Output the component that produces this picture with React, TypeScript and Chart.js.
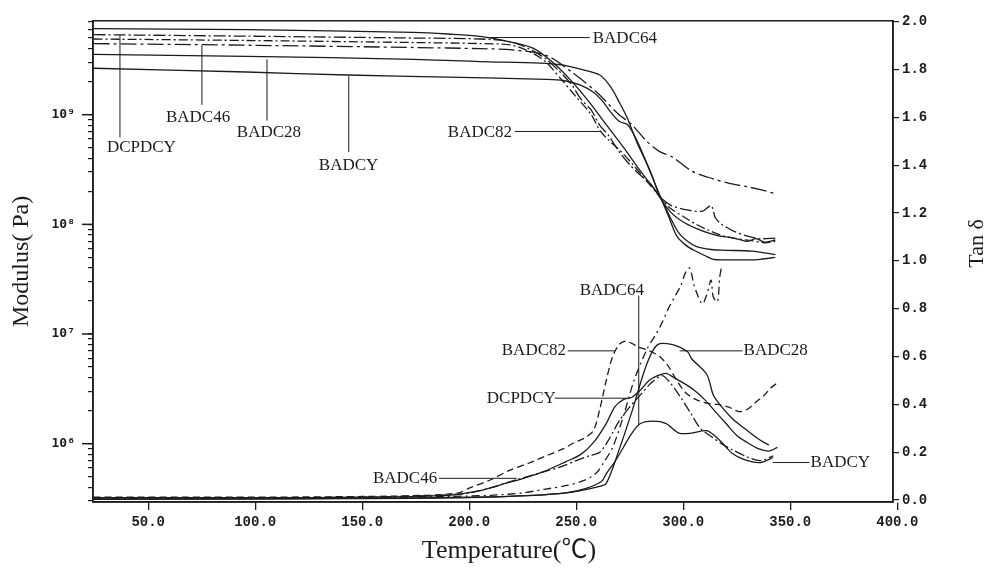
import React, { useEffect, useRef } from 'react';
import { Chart, registerables } from 'chart.js';
Chart.register(...registerables);

// ---------- axis ticks ----------
const xTickValues = [50, 100, 150, 200, 250, 300, 350, 400];
const tanTickValues = [0, 0.2, 0.4, 0.6, 0.8, 1.0, 1.2, 1.4, 1.6, 1.8, 2.0];
const modDecades = [1e6, 1e7, 1e8, 1e9];

// ---------- Storage modulus (Pa) ----------
const tModBADC64 = [24.5, 96, 174, 190, 205, 220, 230, 239, 248, 256, 264, 272, 280, 289, 293, 297, 301, 305, 310, 314, 320, 330, 336, 343];
const modBADC64 = [6.1e9, 5.96e9, 5.62e9, 5.44e9, 5.18e9, 4.57e9, 4.02e9, 3.0e9, 2.0e9, 1.31e9, 8.1e8, 5.05e8, 3.06e8, 1.79e8, 1.2e8, 7.8e7, 6.5e7, 5.8e7, 5.2e7, 4.8e7, 4.75e7, 4.74e7, 4.8e7, 5.0e7];

const tModBADC28 = [24.5, 96, 174, 205, 233, 243, 252, 261, 266, 270, 274, 278, 283, 289, 294, 298, 302, 306, 313, 320, 332, 343];
const modBADC28 = [3.55e9, 3.4e9, 3.2e9, 3.05e9, 2.95e9, 2.85e9, 2.6e9, 2.3e9, 1.8e9, 1.31e9, 9.2e8, 5.8e8, 3.55e8, 1.85e8, 1.15e8, 8.3e7, 7.0e7, 6.3e7, 5.9e7, 5.8e7, 5.7e7, 5.3e7];

const tModBADCY = [24.5, 96, 143, 190, 236, 244, 252, 258, 262, 266, 270, 274, 278, 282, 286, 289, 294, 300, 306, 312, 317, 322, 326, 330, 334, 338, 343];
const modBADCY = [2.65e9, 2.45e9, 2.3e9, 2.2e9, 2.1e9, 2.05e9, 1.86e9, 1.6e9, 1.35e9, 1.06e9, 8.7e8, 8.1e8, 6.0e8, 4.0e8, 2.6e8, 1.79e8, 1.3e8, 1.05e8, 9.2e7, 8.3e7, 7.8e7, 7.6e7, 7.3e7, 7.0e7, 7.4e7, 6.9e7, 7.2e7];

const tModDCPDCY = [24.5, 96, 174, 205, 220, 230, 236, 242, 248, 252, 257, 261, 265, 270, 275, 280, 285, 289, 294, 301, 309, 313, 315, 318, 324, 330, 336, 343];
const modDCPDCY = [5.37e9, 5.2e9, 5.0e9, 4.9e9, 4.6e9, 3.8e9, 3.2e9, 2.5e9, 1.86e9, 1.4e9, 1.1e9, 8.0e8, 6.5e8, 4.6e8, 3.5e8, 2.8e8, 2.3e8, 1.79e8, 1.5e8, 1.36e8, 1.32e8, 1.48e8, 1.15e8, 1.0e8, 8.6e7, 7.8e7, 7.4e7, 7.5e7];

const tModBADC46 = [24.5, 96, 174, 205, 220, 236, 248, 260, 265, 270, 276, 283, 289, 295, 304, 314, 322, 330, 337, 343];
const modBADC46 = [4.45e9, 4.3e9, 4.1e9, 4.0e9, 3.9e9, 3.47e9, 2.44e9, 1.58e9, 1.25e9, 1.0e9, 8.1e8, 5.7e8, 4.6e8, 4.1e8, 3.06e8, 2.6e8, 2.35e8, 2.2e8, 2.05e8, 1.9e8];

const tModBADC82 = [24.5, 96, 174, 205, 220, 230, 236, 243, 250, 257, 261, 265, 270, 276, 282, 289, 294, 300, 306, 312, 318, 325, 332, 338, 343];
const modBADC82 = [4.9e9, 4.75e9, 4.55e9, 4.45e9, 4.3e9, 3.6e9, 3.0e9, 2.1e9, 1.45e9, 1.0e9, 7.2e8, 5.9e8, 4.8e8, 3.6e8, 2.6e8, 1.79e8, 1.4e8, 1.18e8, 1.0e8, 8.8e7, 7.9e7, 7.4e7, 7.1e7, 6.8e7, 7.0e7];

// ---------- Tan delta ----------
const tTanBADC82 = [24.5, 100, 150, 180, 195, 200, 210, 219, 228, 236, 244, 249, 254, 258, 261, 264, 267, 270, 273, 276, 279, 284, 289, 293, 297, 301, 306, 311, 316, 321, 326, 330, 334, 338, 341, 344];
const tanBADC82 = [0.012, 0.012, 0.015, 0.02, 0.03, 0.05, 0.085, 0.125, 0.155, 0.185, 0.215, 0.24, 0.26, 0.29, 0.38, 0.5, 0.6, 0.65, 0.665, 0.655, 0.64, 0.625, 0.6, 0.56, 0.5, 0.45, 0.42, 0.405, 0.4, 0.39, 0.37, 0.38, 0.41, 0.44, 0.47, 0.49];

const tTanBADC64 = [24.5, 100, 150, 200, 230, 245, 255, 262, 264, 268, 272, 276, 280, 286, 292, 298, 304, 311, 317, 323, 330, 336, 342];
const tanBADC64 = [0.005, 0.005, 0.008, 0.012, 0.02, 0.03, 0.05, 0.08, 0.11, 0.16, 0.22, 0.28, 0.32, 0.33, 0.32, 0.28, 0.28, 0.29, 0.25, 0.195, 0.165, 0.157, 0.178];

const tTanBADC28 = [24.5, 150, 200, 230, 245, 255, 260, 264, 270, 276, 283, 288, 295, 302, 304, 311, 314, 317, 323, 330, 336, 340];
const tanBADC28 = [0.003, 0.006, 0.01, 0.02, 0.03, 0.045, 0.055, 0.07, 0.21, 0.37, 0.57, 0.65, 0.65, 0.62, 0.59, 0.525, 0.44, 0.4, 0.34, 0.29, 0.25, 0.23];

const tTanDCPDCY = [24.5, 100, 150, 190, 205, 215, 225, 235, 245, 252, 258, 264, 268, 272, 276, 280, 284, 288, 292, 296, 300, 305, 310, 315, 320, 325, 330, 335, 340, 344];
const tanDCPDCY = [0.01, 0.01, 0.012, 0.02, 0.04, 0.065, 0.09, 0.12, 0.16, 0.19, 0.24, 0.32, 0.39, 0.42, 0.43, 0.46, 0.5, 0.52, 0.53, 0.51, 0.49, 0.46, 0.42, 0.37, 0.32, 0.27, 0.24, 0.215, 0.205, 0.22];

const tTanBADCY = [24.5, 100, 150, 185, 200, 211, 222, 234, 243, 250, 256, 261, 265, 270, 275, 280, 285, 290, 293, 298, 303, 308, 314, 318, 323, 330, 336, 342];
const tanBADCY = [0.01, 0.01, 0.012, 0.02, 0.03, 0.054, 0.085, 0.116, 0.14, 0.165, 0.185, 0.2, 0.25, 0.33, 0.39, 0.44, 0.49, 0.52, 0.5, 0.44, 0.37, 0.3, 0.26, 0.235, 0.21, 0.18, 0.165, 0.185];

const tTanBADC46 = [24.5, 100, 150, 190, 210, 225, 235, 245, 253, 259, 263, 267, 272, 277, 283, 287, 290, 293, 296, 299, 301, 303, 305, 307, 309, 311, 313, 314, 316, 317, 318];
const tanBADC46 = [0.008, 0.008, 0.01, 0.015, 0.02, 0.03, 0.045, 0.06, 0.08, 0.11, 0.16, 0.22, 0.35, 0.5, 0.63, 0.69, 0.74, 0.8, 0.85, 0.9, 0.95, 0.97, 0.9, 0.85, 0.82, 0.86, 0.92, 0.85, 0.83, 0.93, 0.98];

// ---------- labels (text, anchor in data units, leader line in data units) ----------
type Ann = { text: string; axis: 'y' | 'y2'; tx: number; ty: number; line: [number, number, number, number] };
const annotations: Ann[] = [
  { text: 'BADC64', axis: 'y', tx: 257.7, ty: 4.95e9, line: [208, 5.05e9, 256.3, 5.05e9] },
  { text: 'DCPDCY', axis: 'y', tx: 30.7, ty: 5.05e8, line: [36.8, 5.37e9, 36.8, 6.2e8] },
  { text: 'BADC46', axis: 'y', tx: 58.3, ty: 9.4e8, line: [75.1, 4.28e9, 75.1, 1.23e9] },
  { text: 'BADC28', axis: 'y', tx: 91.4, ty: 6.9e8, line: [105.5, 3.2e9, 105.5, 8.83e8] },
  { text: 'BADCY', axis: 'y', tx: 129.7, ty: 3.47e8, line: [143.7, 2.24e9, 143.7, 4.55e8] },
  { text: 'BADC82', axis: 'y', tx: 190, ty: 6.9e8, line: [221.3, 7.03e8, 261, 7.03e8] },
  { text: 'BADC64', axis: 'y2', tx: 251.6, ty: 0.876, line: [279.2, 0.855, 279.2, 0.31] },
  { text: 'BADC82', axis: 'y2', tx: 215.2, ty: 0.624, line: [246, 0.624, 268, 0.624] },
  { text: 'BADC28', axis: 'y2', tx: 328.2, ty: 0.624, line: [298.3, 0.624, 327.7, 0.624] },
  { text: 'DCPDCY', axis: 'y2', tx: 208.2, ty: 0.426, line: [240, 0.426, 273.6, 0.426] },
  { text: 'BADCY', axis: 'y2', tx: 359.5, ty: 0.157, line: [341.8, 0.157, 359, 0.157] },
  { text: 'BADC46', axis: 'y2', tx: 155, ty: 0.091, line: [185.8, 0.091, 222.2, 0.091] },
];

const INK = '#1c1c1c';
const SUP: Record<string, string> = { '5': '⁵', '6': '⁶', '7': '⁷', '8': '⁸', '9': '⁹' };

const pts = (t: number[], v: number[]) => t.map((x, i) => ({ x, y: v[i] }));

function ds(label: string, t: number[], v: number[], axis: string, dash: number[]) {
  return {
    label,
    data: pts(t, v),
    yAxisID: axis,
    borderColor: INK,
    borderWidth: 1.3,
    borderDash: dash,
    pointRadius: 0,
    tension: 0.3,
    fill: false,
  };
}

const framePlugin = {
  id: 'frameAndText',
  afterDraw(chart: any) {
    const { ctx, chartArea, scales } = chart;
    const x = scales.x, y = scales.y, y2 = scales.y2;
    ctx.save();
    ctx.strokeStyle = INK;
    ctx.lineWidth = 1.5;
    ctx.strokeRect(chartArea.left, chartArea.top, chartArea.right - chartArea.left, chartArea.bottom - chartArea.top);
    // longer major ticks on log axis
    modDecades.forEach((d) => {
      const py = y.getPixelForValue(d);
      ctx.beginPath();
      ctx.moveTo(chartArea.left - 11, py);
      ctx.lineTo(chartArea.left, py);
      ctx.stroke();
    });
    // annotations
    ctx.lineWidth = 1;
    ctx.fillStyle = INK;
    ctx.font = '17px "Liberation Serif", serif';
    ctx.textBaseline = 'middle';
    ctx.textAlign = 'left';
    annotations.forEach((a) => {
      const sc = a.axis === 'y' ? y : y2;
      const [t1, v1, t2, v2] = a.line;
      ctx.beginPath();
      ctx.moveTo(x.getPixelForValue(t1), sc.getPixelForValue(v1));
      ctx.lineTo(x.getPixelForValue(t2), sc.getPixelForValue(v2));
      ctx.stroke();
      ctx.fillText(a.text, x.getPixelForValue(a.tx), sc.getPixelForValue(a.ty));
    });
    // axis titles
    const midY = (chartArea.top + chartArea.bottom) / 2;
    ctx.textAlign = 'center';
    ctx.font = '24px "Liberation Serif", serif';
    ctx.save();
    ctx.translate(22, midY);
    ctx.rotate(-Math.PI / 2);
    ctx.fillText('Modulus( Pa)', 0, 0);
    ctx.restore();
    ctx.save();
    ctx.translate(977, midY - 18);
    ctx.rotate(-Math.PI / 2);
    ctx.font = '22px "Liberation Serif", serif';
    ctx.fillText('Tan δ', 0, 0);
    ctx.restore();
    ctx.font = '26px "Liberation Serif", "Noto Sans CJK SC", serif';
    ctx.fillText('Temperature(℃)', 509, 551);
    ctx.restore();
  },
};

export default function App() {
  const ref = useRef<HTMLCanvasElement | null>(null);
  useEffect(() => {
    if (!ref.current) return;
    const tickFont = { family: '"Liberation Mono", "DejaVu Sans Mono", monospace', size: 14, weight: 'bold' as const };
    const chart = new Chart(ref.current, {
      type: 'line',
      data: {
        datasets: [
          ds("BADC64 E'", tModBADC64, modBADC64, 'y', []),
          ds("BADC28 E'", tModBADC28, modBADC28, 'y', []),
          ds("BADCY E'", tModBADCY, modBADCY, 'y', []),
          ds("DCPDCY E'", tModDCPDCY, modDCPDCY, 'y', [12, 3, 2, 3]),
          ds("BADC46 E'", tModBADC46, modBADC46, 'y', [16, 4, 3, 4]),
          ds("BADC82 E'", tModBADC82, modBADC82, 'y', [9, 3, 2, 3]),
          ds('BADC82 tanδ', tTanBADC82, tanBADC82, 'y2', [7, 4]),
          ds('BADC64 tanδ', tTanBADC64, tanBADC64, 'y2', []),
          ds('BADC28 tanδ', tTanBADC28, tanBADC28, 'y2', []),
          ds('DCPDCY tanδ', tTanDCPDCY, tanDCPDCY, 'y2', []),
          ds('BADCY tanδ', tTanBADCY, tanBADCY, 'y2', [10, 3, 2, 3]),
          ds('BADC46 tanδ', tTanBADC46, tanBADC46, 'y2', [8, 4, 2, 4]),
        ],
      },
      options: {
        animation: false,
        responsive: true,
        maintainAspectRatio: false,
        layout: { padding: { top: 15, left: 0, right: 0, bottom: 0 } },
        plugins: { legend: { display: false }, tooltip: { enabled: false } },
        scales: {
          x: {
            type: 'linear',
            min: 24.2,
            max: 398,
            afterBuildTicks: (s: any) => { s.ticks = xTickValues.map((v) => ({ value: v })); },
            afterFit: (s: any) => { s.height = 67; },
            ticks: { color: INK, font: tickFont, padding: 4, autoSkip: false, maxRotation: 0, callback: (v: any) => Number(v).toFixed(1) },
            grid: { drawOnChartArea: false, drawTicks: true, tickLength: 8, color: INK, lineWidth: 1.3 },
            border: { display: true, color: INK, width: 1.5 },
          },
          y: {
            type: 'logarithmic',
            position: 'left',
            min: 2.94e5,
            max: 7.18e9,
            afterBuildTicks: (s: any) => {
              const out: any[] = [];
              for (let e = 5; e <= 9; e++) {
                for (let m = 1; m <= 9; m++) {
                  const v = m * Math.pow(10, e);
                  if (v >= s.min && v <= s.max) out.push({ value: v });
                }
              }
              s.ticks = out;
            },
            afterFit: (s: any) => { s.width = 93; },
            ticks: {
              color: INK,
              font: { family: '"DejaVu Sans Mono", monospace', size: 13, weight: 'bold' as const },
              padding: 13,
              autoSkip: false,
              callback: (v: any) => {
                const e = Math.round(Math.log10(Number(v)));
                if (Math.abs(Number(v) - Math.pow(10, e)) / Math.pow(10, e) < 1e-6) return '10' + (SUP[String(e)] || '');
                return '';
              },
            },
            grid: { drawOnChartArea: false, drawTicks: true, tickLength: 5, color: INK, lineWidth: 1.2 },
            border: { display: true, color: INK, width: 1.5 },
          },
          y2: {
            type: 'linear',
            position: 'right',
            min: -0.008,
            max: 2.004,
            afterBuildTicks: (s: any) => { s.ticks = tanTickValues.map((v) => ({ value: v })); },
            afterFit: (s: any) => { s.width = 96; },
            ticks: { color: INK, font: tickFont, padding: 3, autoSkip: false, callback: (v: any) => Number(v).toFixed(1) },
            grid: { drawOnChartArea: false, drawTicks: true, tickLength: 6, color: INK, lineWidth: 1.2 },
            border: { display: true, color: INK, width: 1.5 },
          },
        },
      } as any,
      plugins: [framePlugin],
    });
    return () => chart.destroy();
  }, []);
  return (
    <div style={{ position: 'fixed', left: 0, top: 0, width: 989, height: 569, background: '#fff' }}>
      <canvas ref={ref} />
    </div>
  );
}
